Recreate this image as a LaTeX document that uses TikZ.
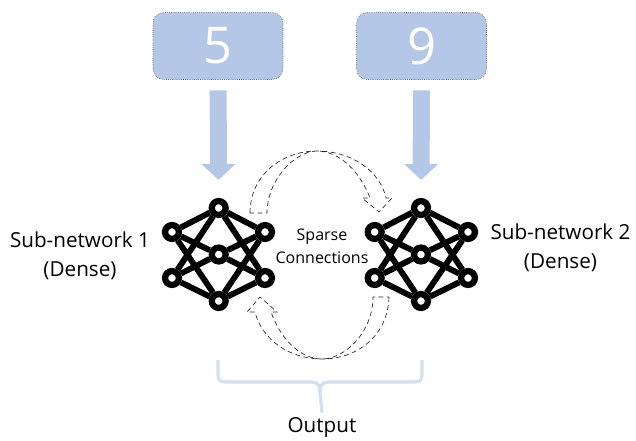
\documentclass[tikz,border=0pt]{standalone}
\usepackage{xcolor}
\usepackage{fontspec}
\setmainfont{Open Sans}
\usetikzlibrary{arrows.meta}
\definecolor{boxblue}{HTML}{B4C7E7}
\definecolor{bracecol}{HTML}{D6DFF0}
\tikzset{
    digitbox/.style={draw=black!70, densely dotted, thin, fill=boxblue, rounded corners=8pt, minimum width=97.5pt, minimum height=50.25pt, text=white, font=\fontsize{38}{42}\selectfont},
    neuron/.style={draw, circle, line width=4.7pt, minimum size=10.4pt, inner sep=0pt},
    netedge/.style={line width=4.4pt},
    blockarrow/.style={-{Triangle[length=12pt,width=25pt]}, boxblue, line width=12.75pt},
    sparsearrow/.style={dash pattern=on 3.6pt off 2.6pt, line width=0.5pt, black!85},
    bracepath/.style={bracecol, line width=2.4pt},
    label/.style={align=center, font=\fontsize{15.5}{21.7}\selectfont},
}
\begin{document}
\begin{tikzpicture}[x=0.75pt, y=-0.75pt]
    \useasboundingbox (0,0) rectangle (636,440);

    \node [digitbox] (box5) at (218,46) {5};
    \node [digitbox] (box9) at (421.5,46) {9};

    % sub-network 1
    \node [neuron] (top1) at (218.7,208) {};
    \node [neuron] (lup1) at (172,232) {};
    \node [neuron] (llo1) at (172,278) {};
    \node [neuron] (mid1) at (218.7,254.5) {};
    \node [neuron] (rup1) at (265,232) {};
    \node [neuron] (rlo1) at (265,278) {};
    \node [neuron] (bot1) at (218.7,301) {};

    % sub-network 2
    \node [neuron] (top2) at (421,208) {};
    \node [neuron] (lup2) at (374.7,232) {};
    \node [neuron] (llo2) at (374.7,278) {};
    \node [neuron] (mid2) at (421,254.5) {};
    \node [neuron] (rup2) at (468,232) {};
    \node [neuron] (rlo2) at (468,278) {};
    \node [neuron] (bot2) at (421,301) {};

    \draw[netedge] (top1) -- (lup1) (top1) -- (rup1) (top1) -- (llo1) (top1) -- (rlo1);
    \draw[netedge] (bot1) -- (llo1) (bot1) -- (rlo1) (bot1) -- (lup1) (bot1) -- (rup1);
    \draw[netedge] (mid1) -- (lup1) (mid1) -- (rup1) (mid1) -- (llo1) (mid1) -- (rlo1);
    \draw[netedge] (top2) -- (lup2) (top2) -- (rup2) (top2) -- (llo2) (top2) -- (rlo2);
    \draw[netedge] (bot2) -- (llo2) (bot2) -- (rlo2) (bot2) -- (lup2) (bot2) -- (rup2);
    \draw[netedge] (mid2) -- (lup2) (mid2) -- (rup2) (mid2) -- (llo2) (mid2) -- (rlo2);

    \draw[blockarrow, shorten <=8pt, shorten >=13.5pt] (box5.south) -- (top1.north);
    \draw[blockarrow, shorten <=8pt, shorten >=13.5pt] (box9.south) -- (top2.north);

    \node [label] (sub1) at (80,255.5) {Sub-network 1\\(Dense)};
    \node [label] (sub2) at (560.5,247.5) {Sub-network 2\\(Dense)};
    \node [align=center, font=\fontsize{12}{17}\selectfont] (sparse) at (322,246.5) {Sparse\\Connections};
    \node [label, anchor=north] (output) at (322,413) {Output};

    % upper dashed arrow
    \draw[sparsearrow] (250,213) .. controls (250,175) and (282,151) .. (317,151)
        .. controls (350,151) and (380,170) .. (386,198) -- (392,198) -- (379,212) -- (362,198) -- (370,198)
        .. controls (360,172) and (340,151) .. (317,151)
        .. controls (295,151) and (267,180) .. (267,213) -- cycle;

    % lower dashed arrow
    \draw[sparsearrow] (389,297) .. controls (388,335) and (358,359) .. (322,359)
        .. controls (290,359) and (262,340) .. (255,312) -- (247,312) -- (260,297) -- (277,312) -- (271,312)
        .. controls (280,338) and (300,359) .. (322,359)
        .. controls (345,359) and (373,332) .. (373,297) -- cycle;

    % output brace
    \draw[bracepath] (218,360) -- (218,374) .. controls (218,380) and (220,382) .. (226,382) -- (312,382)
        .. controls (318,382) and (320,386) .. (320,392) -- (output.north);
    \draw[bracepath] (422,360) -- (422,374) .. controls (422,380) and (420,382) .. (414,382) -- (328,382)
        .. controls (322,382) and (320,386) .. (320,392);
\end{tikzpicture}
\end{document}
